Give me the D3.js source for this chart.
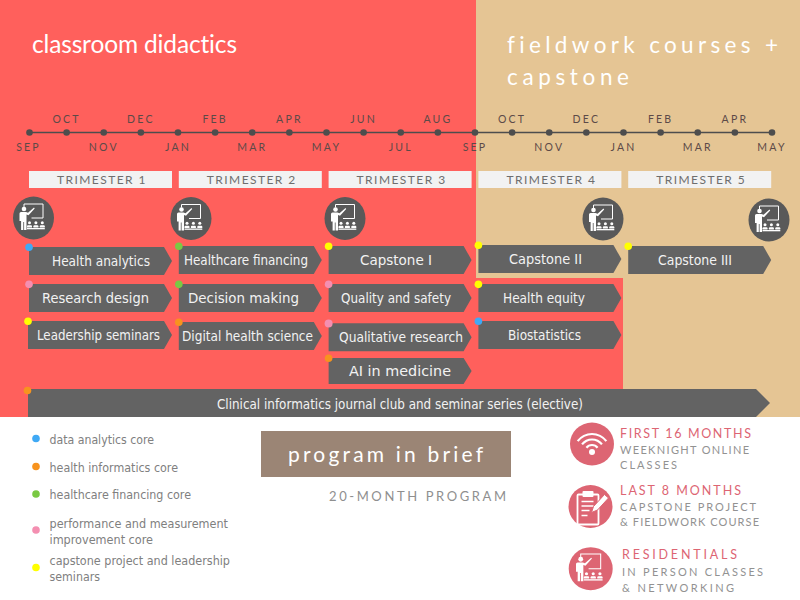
<!DOCTYPE html>
<html><head><meta charset="utf-8">
<script src="https://d3js.org/d3.v7.min.js"></script>
<style>html,body{margin:0;padding:0;background:#fff}svg{display:block}text{font-family:Lato,sans-serif;font-variant-ligatures:none}text.t{font-family:"DejaVu Sans Condensed","DejaVu Sans",sans-serif;font-stretch:condensed;font-variant-ligatures:normal}</style>
</head><body><div id="c"></div>
<script>
const months=["SEP","OCT","NOV","DEC","JAN","FEB","MAR","APR","MAY","JUN","JUL","AUG","SEP","OCT","NOV","DEC","JAN","FEB","MAR","APR","MAY"];
const trimesters=["TRIMESTER 1","TRIMESTER 2","TRIMESTER 3","TRIMESTER 4","TRIMESTER 5"];
const courseNames=["Health analytics","Healthcare financing","Capstone I","Capstone II","Capstone III","Research design","Decision making","Quality and safety","Health equity","Leadership seminars","Digital health science","Qualitative research","Biostatistics","AI in medicine"];
const courseTrimester=[0,1,2,3,4,0,1,2,3,0,1,2,3,2];
const courseRow=[0,0,0,0,0,1,1,1,1,2,2,2,2,3];
const courseTrack=["data","finance","capstone","capstone","capstone","performance","finance","performance","capstone","capstone","informatics","performance","data","informatics"];
const electiveName="Clinical informatics journal club and seminar series (elective)";
const electiveTrack="informatics";
const trackKeys=["data","informatics","finance","performance","capstone"];
const trackLabels=[["data analytics core"],["health informatics core"],["healthcare financing core"],["performance and measurement","improvement core"],["capstone project and leadership","seminars"]];
const trackColors=["#3fa9f5","#f7931e","#7ac943","#f48fb1","#ffff00"];
const residentialTrimesters=[0,1,2,3,4];
const briefHeads=["FIRST 16 MONTHS","LAST 8 MONTHS","RESIDENTIALS"];
const briefLines=[["WEEKNIGHT ONLINE","CLASSES"],["CAPSTONE PROJECT","& FIELDWORK COURSE"],["IN PERSON CLASSES","& NETWORKING"]];

const W=800,H=600,RED="#ff605c",TAN="#e5c594",GREY="#636363";
const svg=d3.select("#c").append("svg").attr("width",W).attr("height",H);
function fit(x0,x1,y,str,size,fill,cls){
  return svg.append("text").attr("class",cls||null).attr("x",x0).attr("y",y).attr("font-size",size).attr("fill",fill)
    .attr("textLength",x1-x0).attr("lengthAdjust",cls?"spacingAndGlyphs":"spacing").text(str);
}
const defs=svg.append("defs");
const pres=defs.append("symbol").attr("id","pres").attr("viewBox","-20 -20 40 40").attr("overflow","visible");
pres.append("path").attr("fill","none").attr("stroke","currentColor").attr("stroke-width",1).attr("d","M-9.5,-11V-14H9.5V0H-2");
pres.append("circle").attr("cx",-9.5).attr("cy",-9).attr("r",2.3).attr("fill","currentColor");
pres.append("path").attr("fill","currentColor").attr("d","M-14,-4.5q0,-1.5 1.5,-1.5H-7.5l2,.8 6,-5.2 .7,.8 -6.2,6.9 -2,-.8V12H-9.4V4H-10.2V12H-12.4V3H-14Z");
[-4,2.4,8.8].forEach(x=>{
  pres.append("circle").attr("cx",x).attr("cy",4.8).attr("r",1.5).attr("fill","currentColor");
  pres.append("path").attr("fill","currentColor").attr("d",`M${x-2.5},9.4v-1.2q0,-1 1,-1h3q1,0 1,1v1.2Z`);
});
pres.append("rect").attr("x",-6.5).attr("y",10).attr("width",17.8).attr("height",1.3).attr("fill","currentColor");

// backgrounds
svg.append("rect").attr("width",476).attr("height",417).attr("fill",RED);
svg.append("rect").attr("x",476).attr("width",324).attr("height",417).attr("fill",TAN);
svg.append("rect").attr("x",476).attr("y",278).attr("width",147).attr("height",139).attr("fill",RED);

// headings
fit(32,237,53,"classroom didactics",24.5,"#fff");
fit(507,778,53,"fieldwork courses +",22.5,"#fff");
fit(507,629,85,"capstone",22.5,"#fff");

// timeline
const xM=d3.scalePoint().domain(d3.range(months.length)).range([29.5,772]);
svg.append("line").attr("x1",xM(0)).attr("x2",xM(months.length-1)).attr("y1",132.5).attr("y2",132.5).attr("stroke","#4d4d4d").attr("stroke-width",1.6);
svg.selectAll(".m").data(months).join("circle").attr("cx",(d,i)=>xM(i)).attr("cy",132.5).attr("r",3.3).attr("fill","#4d4d4d");
svg.selectAll(".ml").data(months).join("text").attr("x",(d,i)=>xM(i)+(i==0?-1:0)).attr("y",(d,i)=>i%2?123.3:151)
 .attr("text-anchor","middle").attr("font-size",10.5).attr("letter-spacing",2.2).attr("fill","#5c4a48").text(d=>d);

// columns
const xT=d3.scaleBand().domain(d3.range(5)).range([29,778]);
const barW=143;
svg.selectAll(".tr").data(trimesters).join("rect").attr("x",(d,i)=>xT(i)).attr("y",171).attr("width",barW).attr("height",17).attr("fill","#f2f2f2");
trimesters.forEach((d,i)=>fit(xT(i)+28,xT(i)+116.5,184,d,12,"#6e6e6e"));

// residential icons
const iconX=[33.5,191,345,603,769],iconY=[218,218.5,218.5,219,220];
residentialTrimesters.forEach((t,i)=>{
  svg.append("ellipse").attr("cx",iconX[i]).attr("cy",iconY[i]).attr("rx",20.5).attr("ry",21.5).attr("fill","#595959");
  svg.append("use").attr("href","#pres").attr("x",iconX[i]-20).attr("y",iconY[i]-20).attr("width",40).attr("height",40).attr("color","#fff");
});

// courses
const rowY=d3.scalePoint().domain([0,1,2,3]).range([246,358]);
const colour=d3.scaleOrdinal().domain(trackKeys).range(trackColors);
const barDy=[1,0,0,-1,0, .7,.7,.7,.7, .3,1.3,2.6,.3, 0];
const barDx=[0,0,0,0,0, 0,0,0,0, -1,0,0,0, 0];
const labelX=[[52,150],[184,308],[360,432],[509,582],[658,732],[42,149],[188,299],[341,451],[503,585],[37,160],[182,313],[339,463],[508,581],[349,451]];
const rowH=[28,28,28,26];
function arrow(x,y,w,h,t){return `M${x},${y}H${x+w-t}L${x+w},${y+h/2}L${x+w-t},${y+h}H${x}Z`;}
courseNames.forEach((n,i)=>{
  const x=xT(courseTrimester[i])+barDx[i],r=courseRow[i],y=rowY(r)+barDy[i],h=rowH[r];
  svg.append("path").attr("d",arrow(x,y,barW-barDx[i],h,8)).attr("fill",GREY);
  fit(labelX[i][0],labelX[i][1],y+h/2+5,n,13.5,"#f2f2f2","t");
  svg.append("circle").attr("cx",x).attr("cy",y+.3).attr("r",i==11?4:3.8).attr("fill",colour(courseTrack[i]));
});
svg.append("path").attr("d",arrow(28,389,742,28,14)).attr("fill",GREY);
fit(217,583,408.5,electiveName,13.5,"#f2f2f2","t");
svg.append("circle").attr("cx",27.5).attr("cy",390.5).attr("r",3.8).attr("fill",colour(electiveTrack));

// legend
const legY=[438.5,466.5,494,530,567.5];
const legBase=[[444],[472],[499],[527.7,544],[564.7,580.7]];
const legEnd=[154,178,191,228,230];
const legEnd2=[null,null,null,153,100];
trackLabels.forEach((ls,i)=>{
  svg.append("circle").attr("cx",36).attr("cy",legY[i]).attr("r",3.8).attr("fill",trackColors[i]);
  ls.forEach((l,j)=>fit(49.5,j?legEnd2[i]:legEnd[i],legBase[i][j],l,12.5,"#808080","t"));
});

// program in brief
svg.append("rect").attr("x",261).attr("y",431).attr("width",250).attr("height",46).attr("fill","#9b8575");
fit(288,483,461.7,"program in brief",21,"#fff");
fit(329,506,500.7,"20-MONTH PROGRAM",13,"#8f8f8f");

// right block
const ROSE="#dd6573";
const bx=[592,590.5,590.7],by=[444,506.5,568.7];
const headX=[[620,751],[620,741],[622,737]],headY=[438,495,559];
const lineEnd=[[749,677],[756,759],[763,734]],lineY=[[454,469],[511,526],[576,592]];
briefHeads.forEach((h,i)=>{
  svg.append("ellipse").attr("cx",bx[i]).attr("cy",by[i]).attr("rx",22).attr("ry",21.5).attr("fill",ROSE);
  fit(headX[i][0],headX[i][1],headY[i],h,12.5,ROSE);
  briefLines[i].forEach((l,j)=>fit(headX[i][0],lineEnd[i][j],lineY[i][j],l,11,"#929292"));
});
// wifi
[18,12.5,7].forEach(r=>{
  svg.append("path").attr("d",d3.arc()({innerRadius:r-1.1,outerRadius:r+1.1,startAngle:-0.92,endAngle:0.92,cornerRadius:1}))
   .attr("transform",`translate(${bx[0]},${by[0]+8})`).attr("fill","#fff");
});
svg.append("circle").attr("cx",bx[0]).attr("cy",by[0]+8).attr("r",3).attr("fill","#fff");
// clipboard
const cb=svg.append("g").attr("transform",`translate(${bx[1]},${by[1]})`);
cb.append("rect").attr("x",-13).attr("y",-12).attr("width",21).attr("height",30).attr("rx",1).attr("fill","none").attr("stroke","#fff").attr("stroke-width",1.8);
cb.append("rect").attr("x",-8).attr("y",-15.5).attr("width",11).attr("height",6).attr("rx",1).attr("fill","#fff");
[-5,-.5,4,9].forEach((y,k)=>cb.append("line").attr("x1",-9).attr("x2",k==3?-3:k==2?-1:3).attr("y1",y).attr("y2",y).attr("stroke","#fff").attr("stroke-width",1.5));
cb.append("path").attr("d","M1,6 L3,0 L14,-12 L18,-8.5 L7,3.5Z").attr("fill","#fff").attr("stroke",ROSE).attr("stroke-width",1);
svg.append("use").attr("href","#pres").attr("x",bx[2]-21).attr("y",by[2]-21).attr("width",42).attr("height",42).attr("color","#fff");
</script></body></html>
